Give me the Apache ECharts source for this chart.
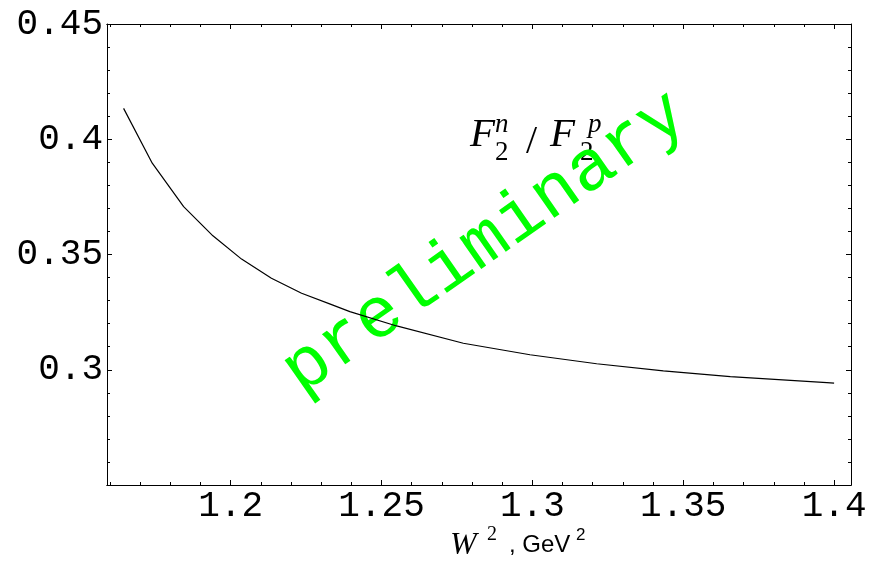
<!DOCTYPE html>
<html><head><meta charset="utf-8">
<script src="https://cdn.jsdelivr.net/npm/echarts@6/dist/echarts.min.js"></script>
<style>html,body{margin:0;padding:0;background:#fff}#c{width:871px;height:570px}</style>
</head><body><div id="c"></div>
<script>
// W^2 (GeV^2) and F2n/F2p values
const w2 = [1.1645, 1.174, 1.1844, 1.1941, 1.2036, 1.2135, 1.2235, 1.2328, 1.2395, 1.255, 1.2771, 1.2992, 1.3213, 1.3434, 1.3656, 1.3976, 1.4];
const ratio = [0.4134, 0.3896, 0.3708, 0.3581, 0.348, 0.3397, 0.3332, 0.3286, 0.3252, 0.319, 0.3115, 0.3065, 0.3026, 0.2995, 0.297, 0.2944, 0.2942];
const xMajorTicks = [1.2, 1.25, 1.3, 1.35, 1.4];
const xMinorTicks = [1.16, 1.17, 1.18, 1.19, 1.21, 1.22, 1.23, 1.24, 1.26, 1.27, 1.28, 1.29, 1.31, 1.32, 1.33, 1.34, 1.36, 1.37, 1.38, 1.39];
const yTickLabels = [0.3, 0.35, 0.4, 0.45];

const X_MIN = 1.159, X_MAX = 1.4056, Y_MIN = 0.25, Y_MAX = 0.45;
const tickFont = { fontFamily: '"Liberation Mono", monospace', fontSize: 36, color: '#000' };
const lineStyle = { color: '#000', width: 1 };

function xAxisDef(pos, ticks, len, labels) {
  return {
    type: 'value', position: pos, min: X_MIN, max: X_MAX,
    axisLine: { show: true, onZero: false, lineStyle },
    axisTick: { show: true, inside: true, length: len, customValues: ticks, lineStyle },
    axisLabel: labels ? Object.assign({ show: true, customValues: xMajorTicks, margin: 3,
      formatter: v => String(+v.toFixed(2)) }, tickFont) : { show: false },
    splitLine: { show: false }
  };
}
function yAxisDef(pos, labels) {
  return {
    type: 'value', position: pos, min: Y_MIN, max: Y_MAX, interval: 0.05,
    axisLine: { show: true, onZero: false, lineStyle },
    axisTick: { show: true, inside: true, length: 5, lineStyle },
    minorTick: { show: true, splitNumber: 5, length: 3, lineStyle },
    axisLabel: labels ? Object.assign({ show: true, margin: 4,
      formatter: v => yTickLabels.some(t => Math.abs(t - v) < 1e-9) ? String(+v.toFixed(2)) : '' }, tickFont) : { show: false },
    splitLine: { show: false }
  };
}

const chart = echarts.init(document.getElementById('c'), null, { renderer: 'canvas' });
chart.setOption({
  animation: false,
  backgroundColor: '#fff',
  grid: { left: 107, right: 20, top: 24, bottom: 85, containLabel: false },
  xAxis: [
    xAxisDef('bottom', xMajorTicks, 5, true),
    xAxisDef('bottom', xMinorTicks, 3, false),
    xAxisDef('top', xMajorTicks, 5, false),
    xAxisDef('top', xMinorTicks, 3, false)
  ],
  yAxis: [yAxisDef('left', true), yAxisDef('right', false)],
  series: [{
    type: 'line', xAxisIndex: 0, yAxisIndex: 0, z: 5,
    data: w2.map((x, i) => [x, ratio[i]]),
    showSymbol: false, smooth: false,
    lineStyle: { color: '#000', width: 1.2 }
  }],
  graphic: [
    { type: 'text', x: 485, y: 243, rotation: 35 * Math.PI / 180, z: 1,
      style: { text: 'preliminary', font: '72px "Liberation Mono"', fill: '#00ff00', align: 'center', verticalAlign: 'middle' } },
    // F_2^n / F_2^p label
    { type: 'text', x: 470, y: 156, style: { text: 'F', font: 'italic 41px "Liberation Serif"', fill: '#000', verticalAlign: 'bottom' } },
    { type: 'text', x: 495, y: 138, style: { text: 'n', font: 'italic 27px "Liberation Serif"', fill: '#000', verticalAlign: 'bottom' } },
    { type: 'text', x: 495, y: 166, style: { text: '2', font: '27px "Liberation Serif"', fill: '#000', verticalAlign: 'bottom' } },
    { type: 'text', x: 526, y: 162, style: { text: '/', font: '40px "Liberation Serif"', fill: '#000', verticalAlign: 'bottom' } },
    { type: 'text', x: 550, y: 156, style: { text: 'F', font: 'italic 41px "Liberation Serif"', fill: '#000', verticalAlign: 'bottom' } },
    { type: 'text', x: 588, y: 138, style: { text: 'p', font: 'italic 27px "Liberation Serif"', fill: '#000', verticalAlign: 'bottom' } },
    { type: 'text', x: 580, y: 166, style: { text: '2', font: '27px "Liberation Serif"', fill: '#000', verticalAlign: 'bottom' } },
    // axis title W^2, GeV^2
    { type: 'text', x: 450, y: 562, style: { text: 'W', font: 'italic 32px "Liberation Serif"', fill: '#000', verticalAlign: 'bottom' } },
    { type: 'text', x: 487, y: 545, style: { text: '2', font: '20px "Liberation Serif"', fill: '#000', verticalAlign: 'bottom' } },
    { type: 'text', x: 509, y: 557, style: { text: ', GeV', font: '24px "Liberation Sans"', fill: '#000', verticalAlign: 'bottom' } },
    { type: 'text', x: 576, y: 544, style: { text: '2', font: '17px "Liberation Sans"', fill: '#000', verticalAlign: 'bottom' } }
  ]
});
</script></body></html>
